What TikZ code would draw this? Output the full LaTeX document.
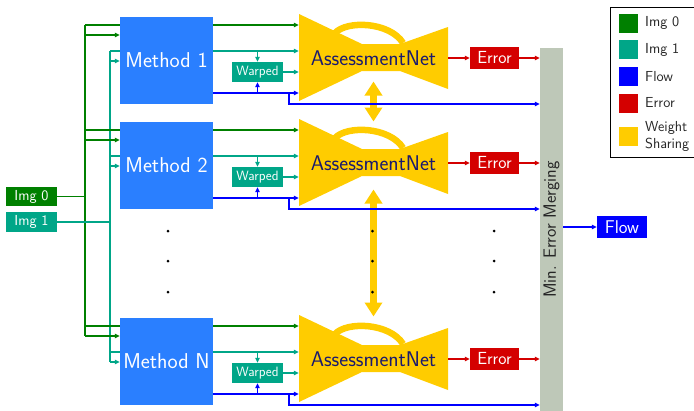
\documentclass[tikz,border=0pt]{standalone}
\usetikzlibrary{arrows.meta,backgrounds}

\definecolor{imgzero}{RGB}{0,128,0}
\definecolor{imgone}{RGB}{0,166,136}
\definecolor{flowblue}{RGB}{0,0,255}
\definecolor{errred}{RGB}{212,0,0}
\definecolor{shareyellow}{RGB}{255,204,0}
\definecolor{methodblue}{RGB}{42,127,255}
\definecolor{mergegray}{RGB}{190,200,184}
\definecolor{netnavy}{RGB}{26,26,110}

\begin{document}
\begin{tikzpicture}[x=1pt, y=-1pt,
    >={Triangle[length=5pt,width=4.5pt]},
    fs/.style={font=\sffamily\fontsize{#1}{#1}\selectfont},
    block/.style={inner sep=0pt, text=white},
    method box/.style={block, fill=methodblue, minimum width=93pt, minimum height=87pt, fs=21.5},
    small box/.style={block, fill=#1, minimum width=51pt, minimum height=20pt, fs=14.5},
    net box/.style={inner sep=0pt, minimum width=149pt, minimum height=87pt, text=netnavy, fs=21.3},
    zero line/.style={imgzero, line width=1.1pt},
    one line/.style={imgone, line width=1.1pt},
    flow line/.style={flowblue, line width=1.1pt},
    err line/.style={errred, line width=1.1pt},
    share arrow/.style={shareyellow, line width=7pt,
        {Triangle[length=14pt,width=17pt]}-{Triangle[length=14pt,width=17pt]}}
]
\useasboundingbox (0,0) rectangle (694,410);

\node[small box=imgzero, minimum height=19pt] (img0) at (31.5,196.5) {Img 0};
\node[small box=imgone] (img1) at (31.5,222) {Img 1};

\node[block, fill=mergegray, minimum width=23pt, minimum height=363pt, text=black!85, fs=17.8]
    (merge) at (551.5,229.5) {\rotatebox{90}{Min. Error Merging}};
\node[small box=flowblue, minimum width=50pt, minimum height=22pt, fs=18.5] (flow) at (622,227) {Flow};

\foreach \dy/\n in {0/1,105/2,301/N}{
    \node[method box] (method\n) at (166.5,60.5+\dy) {Method \n};
    \node[small box=imgone, fs=13.5] (warp\n) at (257.5,72+\dy) {Warped};
    \node[net box] (net\n) at (373.5,58.5+\dy) {AssessmentNet};
    \node[small box=errred, minimum width=49pt, minimum height=22pt, fs=17.5] (err\n) at (494.5,58+\dy) {Error};
    \coordinate (gp\n) at (85,25+\dy);
    \coordinate (gi\n) at (85,35+\dy);
    \coordinate (tp\n) at (110,51+\dy);
    \coordinate (ti\n) at (110,61+\dy);
    \coordinate (fo\n) at (213,93+\dy);
    \coordinate (fb\n) at (289,104+\dy);
}

\begin{scope}[on background layer]
    \foreach \dy in {0,105,301}{
        \fill[shareyellow] (299,14+\dy) -- (362,44+\dy) -- (400,44+\dy) -- (448,27+\dy)
            -- (448,89+\dy) -- (400,71+\dy) -- (362,71+\dy) -- (299,101+\dy) -- cycle;
        \draw[shareyellow, line width=6.5pt] (335,33+\dy) .. controls (347,20+\dy) and (390,22+\dy) .. (403,43+\dy);
    }
    \draw[share arrow] ([yshift=-23pt]net1.center) -- ([yshift=42pt]net2.center);
    \draw[share arrow] ([yshift=-26pt]net2.center) -- ([yshift=43pt]netN.center);

    \draw[zero line] (img0) -- (img0 -| gp1);
    \draw[zero line] (gp1) -- (gp1 |- giN);
    \draw[one line] (img1) -- (img1 -| tp1);
    \draw[one line] (tp1) -- (tp1 |- tiN);

    \foreach \n in {1,2,N}{
        \draw[zero line,->] (gp\n) -- (gp\n -| net\n.west);
        \draw[zero line,->] (gi\n) -- (gi\n -| method\n.west);
        \draw[one line,->] (tp\n) -- (tp\n -| net\n.west);
        \draw[one line,->] (ti\n) -- (ti\n -| method\n.west);
        \draw[one line,->] (tp\n -| warp\n) -- (warp\n);
        \draw[one line,->] (warp\n) -- (warp\n -| net\n.west);
        \draw[flow line,->] (fo\n) -- (fo\n -| net\n.west);
        \draw[flow line,->] (fo\n -| warp\n) -- (warp\n);
        \draw[flow line,->] (fo\n -| fb\n) -- (fb\n) -- (fb\n -| merge.west);
        \draw[err line,->] (net\n.east |- err\n) -- (err\n);
        \draw[err line,->] (err\n) -- (err\n -| merge.west);
    }
    \draw[flow line,->] (merge.east |- flow) -- (flow);
\end{scope}

% dots between rows
\foreach \y in {231,261,292}{
    \foreach \x in {168,372.5,494}
        \fill (\x,\y) circle (1.5pt);
}

% legend
\draw[line width=0.8pt] (610,7) rectangle (697,157);
\foreach \c/\y/\t in {imgzero/23/Img 0, imgone/49.5/Img 1, flowblue/76.5/Flow,
                      errred/103/Error, shareyellow/136.5/{Weight\\Sharing}}{
    \node[fill=\c, minimum size=19pt, inner sep=0pt] (key\c) at (628.5,\y) {};
    \node[anchor=west, align=left, inner sep=0pt, text=black!85,
          font=\sffamily\fontsize{14.5}{17}\selectfont] (txt\c) at (645,\y) {\t};
}
\end{tikzpicture}
\end{document}
